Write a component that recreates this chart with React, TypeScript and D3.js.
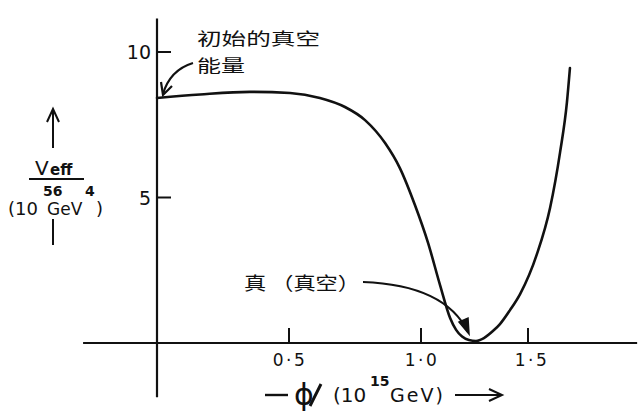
import React from "react";
import * as d3 from "d3";

// ---- data ----
const phiValues = [0, 0.163, 0.352, 0.504, 0.617, 0.712, 0.788, 0.864, 0.92, 0.977, 1.033, 1.089, 1.136, 1.164, 1.192, 1.224, 1.257, 1.294, 1.336, 1.369, 1.416, 1.463, 1.542, 1.603, 1.65, 1.682, 1.696];
const veffValues = [8.42, 8.54, 8.63, 8.59, 8.42, 8.11, 7.66, 6.87, 6.01, 4.74, 3.44, 1.99, 0.86, 0.45, 0.22, 0.1, 0.07, 0.17, 0.41, 0.65, 1.13, 1.68, 3.06, 4.64, 6.56, 8.28, 9.45];
const xTickValues = [0.5, 1.0, 1.5];
const xTickLabels = ["0·5", "1·0", "1·5"];
const yTickValues = [5, 10];
const yTickLabels = ["5", "10"];
const xAxisExtent = [-0.28, 2.01];
const yAxisExtent = [-1.86, 11.15];
const initialLabel = ["初始的真空", "能量"];
const trueLabel = "真 （真空）";

const W = 640;
const H = 416;
const INK = "#111";
const LATIN = "'DejaVu Sans', sans-serif";
const CJK = "'Noto Sans CJK SC', sans-serif";

export default function App() {
  // hand-drawn original: piecewise linear horizontal scale
  const x = d3.scaleLinear().domain([0, 1.0, 1.5]).range([157, 421, 528]);
  const y = d3.scaleLinear().domain([0, 10]).range([343, 52]);

  const pts: [number, number][] = phiValues.map((p, i) => [p, veffValues[i]]);
  const line = d3
    .line<[number, number]>()
    .x((d) => x(d[0]))
    .y((d) => y(d[1]))
    .curve(d3.curveMonotoneX);

  const x0 = x(0);
  const y0 = y(0);

  return (
    <svg
      width={W}
      height={H}
      viewBox={`0 0 ${W} ${H}`}
      style={{ position: "absolute", left: 0, top: 0, background: "#fff" }}
    >
      <rect x={0} y={0} width={W} height={H} fill="#fff" />
      {/* axes */}
      <line x1={x(xAxisExtent[0])} x2={x(xAxisExtent[1])} y1={y0} y2={y0} stroke={INK} strokeWidth={2.2} />
      <line x1={x0} x2={x0} y1={y(yAxisExtent[0])} y2={y(yAxisExtent[1])} stroke={INK} strokeWidth={2.2} />

      {/* x ticks */}
      {xTickValues.map((v, i) => (
        <g key={"xt" + i}>
          <line x1={x(v)} x2={x(v)} y1={y0} y2={y0 - 15} stroke={INK} strokeWidth={2} />
          <text x={x(v) + (i === 2 ? 4 : 1)} y={y0 + 23} textAnchor="middle" fontFamily={LATIN} fontSize={17} letterSpacing={2.5} fill={INK}>
            {xTickLabels[i]}
          </text>
        </g>
      ))}

      {/* y ticks */}
      {yTickValues.map((v, i) => (
        <g key={"yt" + i}>
          <line x1={x0} x2={x0 + 14} y1={y(v)} y2={y(v)} stroke={INK} strokeWidth={2} />
          <text x={x0 - 6} y={y(v) + 7} textAnchor="end" fontFamily={LATIN} fontSize={19} fill={INK}>
            {yTickLabels[i]}
          </text>
        </g>
      ))}

      {/* curve */}
      <path d={line(pts) || ""} fill="none" stroke={INK} strokeWidth={2.6} strokeLinejoin="round" strokeLinecap="round" />

      {/* x axis title */}
      <g fill={INK} fontFamily={LATIN}>
        <line x1={265} x2={288} y1={395} y2={395} stroke={INK} strokeWidth={2.4} />
        <text x={304} y={405} textAnchor="middle" fontSize={30}>ϕ</text>
        <line x1={310} x2={321} y1={406} y2={384} stroke={INK} strokeWidth={3} />
        <text x={333} y={402} fontSize={20}>(10</text>
        <text x={370} y={386} fontSize={14} fontWeight="bold">15</text>
        <text x={390} y={402} fontSize={19} letterSpacing={2}>GeV)</text>
        <line x1={455} x2={500} y1={395} y2={395} stroke={INK} strokeWidth={2} />
        <path d="M489,389 L502,395 L489,401" fill="none" stroke={INK} strokeWidth={2} />
      </g>

      {/* y axis title */}
      <g fill={INK} fontFamily={LATIN}>
        <line x1={53} x2={53} y1={148} y2={111} stroke={INK} strokeWidth={2} />
        <path d="M47,122 L53,109 L59,122" fill="none" stroke={INK} strokeWidth={2} />
        <text x={35} y={175} fontSize={20}>V</text>
        <text x={50} y={175} fontSize={15} fontWeight="bold">eff</text>
        <line x1={29} x2={84} y1={179} y2={179} stroke={INK} strokeWidth={1.8} />
        <text x={8} y={215} fontSize={18}>(10</text>
        <text x={43} y={196} fontSize={14} fontWeight="bold">56</text>
        <text x={47} y={215} fontSize={17}>GeV</text>
        <text x={85} y={196} fontSize={14} fontWeight="bold">4</text>
        <text x={96} y={215} fontSize={18}>)</text>
        <line x1={53} x2={53} y1={219} y2={245} stroke={INK} strokeWidth={2} />
      </g>

      {/* annotations */}
      <g fill={INK} fontFamily={CJK}>
        <text x={197} y={45} fontSize={17} textLength={123} lengthAdjust="spacingAndGlyphs">{initialLabel[0]}</text>
        <text x={197} y={72} fontSize={17} textLength={48} lengthAdjust="spacingAndGlyphs">{initialLabel[1]}</text>
        <text x={244} y={290} fontSize={18} textLength={116} lengthAdjust="spacingAndGlyphs">{trueLabel}</text>
      </g>
      <path d="M193,63 Q170,70 163,94" fill="none" stroke={INK} strokeWidth={2.2} />
      <path d="M161,82 L163,95 L172,86" fill="none" stroke={INK} strokeWidth={2.2} strokeLinejoin="miter" />
      <path d="M363,282 Q445,285 468,332" fill="none" stroke={INK} strokeWidth={2.2} />
      <path d="M459,322 L469,334 L468,318 Z" fill={INK} stroke={INK} strokeWidth={1.5} />
    </svg>
  );
}
